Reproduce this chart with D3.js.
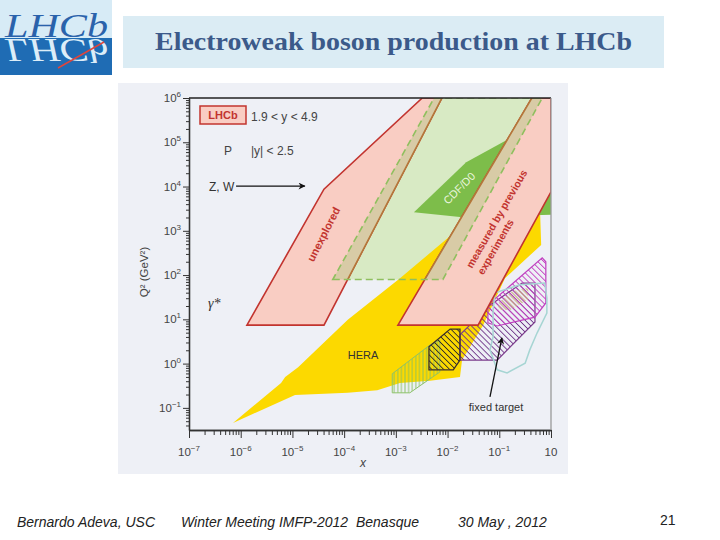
<!DOCTYPE html>
<html>
<head>
<meta charset="utf-8">
<script src="https://cdn.jsdelivr.net/npm/d3@7"></script>
<style>
  body { margin: 0; background: #fff; }
  svg text { font-family: "Liberation Sans", Arial, sans-serif; }
</style>
</head>
<body>
<svg width="720" height="540"></svg>
<script>
/**********************
 Data (log10 x, log10 Q2)
**********************/
var xDecades = [-7, -6, -5, -4, -3, -2, -1, 0];
var xTickLabels = [['10','\u22127'],['10','\u22126'],['10','\u22125'],['10','\u22124'],['10','\u22123'],['10','\u22122'],['10','\u22121'],['10','']];
var yDecades = [-1, 0, 1, 2, 3, 4, 5, 6];
var yTickLabels = [['10','\u22121'],['10','0'],['10','1'],['10','2'],['10','3'],['10','4'],['10','5'],['10','6']];

// LHCb acceptance, low-x part ("unexplored")
var lhcbLow = [[-5.88,0.87],[-4.39,0.87],[-2.11,6],[-2.49,6],[-4.39,3.94]];
// LHCb acceptance, high-x part ("measured by previous experiments")
var lhcbHigh = [[-2.96,0.87],[-1.41,0.87],[0,3.88],[0,6],[-0.37,6]];
// ATLAS/CMS |y| < 2.5
var centralBand = [[-4.22,1.9],[-2.09,1.9],[-0.17,6],[-2.26,6]];
// Tevatron
var cdfD0 = [[-2.65,3.42],[-1.64,4.55],[-0.75,5.12],[0,4.83],[0,3.36],[-1.76,3.31]];
// HERA
var hera = [[-6.15,-1.34],[-5.22,-0.44],[-5.14,-0.30],[-4.89,-0.08],[-3.93,0.99],[-2.92,1.93],[-1.95,2.88],
            [-0.21,3.40],[-0.19,2.68],[-0.89,1.93],[-1.31,0.87],[-1.72,0.08],[-1.76,-0.30],[-2.34,-0.39],
            [-2.92,-0.44],[-3.36,-0.60],[-3.93,-0.66],[-4.95,-0.71]];
// fixed target experiments
var ftGreen = [[-3.07,-0.23],[-2.34,0.42],[-2.15,0.53],[-2.15,-0.19],[-2.73,-0.66],[-3.07,-0.66]];
var ftBlack = [[-2.36,0.38],[-1.95,0.78],[-1.76,0.78],[-1.76,0.08],[-1.89,-0.14],[-2.36,-0.14]];
var ftPurple = [[-1.76,0.08],[-1.04,0.08],[-0.31,0.94],[-0.31,1.82],[-0.56,1.82],[-1.18,1.32],[-1.57,0.87],[-1.76,0.65]];
var ftMagenta = [[-1.22,1.32],[-0.17,2.39],[-0.10,2.30],[-0.10,1.37],[-0.31,1.05],[-1.04,0.85],[-1.22,0.92]];
var ftTan = [[-1.02,1.37],[-0.75,1.64],[-0.44,1.71],[-0.44,1.44],[-0.79,1.21],[-1.02,1.21]];
var ftTeal = [[-1.08,1.60],[-0.60,1.78],[-0.12,1.82],[-0.08,1.48],[-0.08,1.14],[-0.27,0.69],[-0.41,0.31],
              [-0.50,0.01],[-0.85,-0.21],[-1.04,-0.14],[-1.18,0.31],[-1.12,0.60],[-1.12,1.21]];
// arrows
var zwArrow = [[-6.09,4.01],[-4.76,4.01]];
var ftArrow = [[-1.18,-0.75],[-0.95,0.58]];

/**********************
 Layout
**********************/
var svg = d3.select('svg');
var plot = {l: 189, r: 551, t: 98, b: 430};

var xScale = d3.scaleLog().domain([1e-7, 1]).range([plot.l, plot.r]);
var yScale = d3.scaleLog().domain([Math.pow(10, -1.5), 1e6]).range([plot.b, plot.t]);

function px(p) { return xScale(Math.pow(10, p[0])); }
function py(p) { return yScale(Math.pow(10, p[1])); }
var lineGen = d3.line().x(px).y(py);
function polyPath(d) { return lineGen(d) + 'Z'; }

/**********************
 Slide frame: logo, title, footer
**********************/
var logo = svg.append('g');
logo.append('rect').attr('x', 0).attr('y', 0).attr('width', 112).attr('height', 38).attr('fill', '#d7ebf6');
logo.append('rect').attr('x', 0).attr('y', 38).attr('width', 112).attr('height', 37).attr('fill', '#1f6cb4');
logo.append('text').attr('x', 5).attr('y', 37)
  .style('font-family', '"Liberation Serif", serif').style('font-style', 'italic')
  .attr('font-size', 33).attr('fill', '#2a62ab')
  .attr('textLength', 103).attr('lengthAdjust', 'spacingAndGlyphs')
  .text('LHCb');
logo.append('g').attr('transform', 'translate(0,76) scale(1,-1)')
  .append('text').attr('x', 5).attr('y', 37)
  .style('font-family', '"Liberation Serif", serif').style('font-style', 'italic')
  .attr('font-size', 33).attr('fill', '#dcedf8')
  .attr('textLength', 103).attr('lengthAdjust', 'spacingAndGlyphs')
  .text('LHCb');
logo.append('line').attr('x1', 58).attr('y1', 68).attr('x2', 104).attr('y2', 42)
  .attr('stroke', '#e0453c').attr('stroke-width', 1.5);

svg.append('rect').attr('x', 123).attr('y', 16).attr('width', 541).attr('height', 52).attr('fill', '#dbecf4');
svg.append('text').attr('x', 155).attr('y', 50)
  .style('font-family', '"Liberation Serif", "Times New Roman", serif')
  .attr('font-size', 25).attr('font-weight', 'bold').attr('fill', '#3b5a8a')
  .attr('textLength', 477).attr('lengthAdjust', 'spacingAndGlyphs')
  .text('Electroweak boson production at LHCb');

var footer = [
  {t: 'Bernardo Adeva, USC', x: 17},
  {t: 'Winter Meeting IMFP-2012  Benasque', x: 181},
  {t: '30 May , 2012', x: 458}
];
svg.selectAll('text.footer').data(footer).enter().append('text')
  .attr('class', 'footer')
  .attr('x', function(d) { return d.x; }).attr('y', 527)
  .attr('font-size', 14).attr('font-style', 'italic').attr('fill', '#222')
  .style('white-space', 'pre')
  .text(function(d) { return d.t; });
svg.append('text').attr('x', 660).attr('y', 525).attr('font-size', 14).attr('fill', '#222').text('21');

/**********************
 Chart picture background
**********************/
svg.append('rect').attr('x', 118).attr('y', 83).attr('width', 450).attr('height', 391).attr('fill', '#eef0f6');

/**********************
 Defs: hatches, clips, arrow
**********************/
var defs = svg.append('defs');
function hatch(id, color, angle, gap, w) {
  defs.append('pattern').attr('id', id)
    .attr('patternUnits', 'userSpaceOnUse')
    .attr('width', gap).attr('height', gap)
    .attr('patternTransform', 'rotate(' + angle + ')')
    .append('line')
    .attr('x1', gap / 2).attr('y1', 0).attr('x2', gap / 2).attr('y2', gap)
    .attr('stroke', color).attr('stroke-width', w);
}
hatch('hatchGreen', '#86bf62', 0, 3.6, 0.9);
hatch('hatchBlack', '#2e2a2a', -45, 4.2, 0.9);
hatch('hatchPurple', '#6e3488', -45, 4.2, 0.9);
hatch('hatchMagenta', '#c23cc0', -45, 4.2, 0.9);
hatch('hatchTan', '#c7b080', -45, 3.2, 1.1);

defs.append('clipPath').attr('id', 'plotClip').append('rect')
  .attr('x', plot.l).attr('y', plot.t).attr('width', plot.r - plot.l).attr('height', plot.b - plot.t);
var pinkClip = defs.append('clipPath').attr('id', 'pinkClip');
pinkClip.append('path').attr('d', polyPath(lhcbLow));
pinkClip.append('path').attr('d', polyPath(lhcbHigh));
defs.append('clipPath').attr('id', 'greenClip').append('path').attr('d', polyPath(centralBand));

defs.append('marker').attr('id', 'arrowHead')
  .attr('viewBox', '0 0 10 10').attr('refX', 9).attr('refY', 5)
  .attr('markerWidth', 9).attr('markerHeight', 7).attr('orient', 'auto')
  .attr('markerUnits', 'userSpaceOnUse')
  .append('path').attr('d', 'M0,0 L10,5 L0,10 L3,5 Z').attr('fill', '#111');

/**********************
 Regions
**********************/
var chartG = svg.append('g').attr('clip-path', 'url(#plotClip)');

chartG.append('path').attr('d', polyPath(centralBand)).attr('fill', '#d8eac4');
chartG.append('path').attr('d', polyPath(hera)).attr('fill', '#fcd900');
chartG.append('path').attr('d', polyPath(cdfD0)).attr('fill', '#7dbd4a');

chartG.append('path').attr('d', polyPath(ftGreen))
  .attr('fill', 'url(#hatchGreen)').attr('stroke', '#8cc26a').attr('stroke-width', 1);
chartG.append('path').attr('d', polyPath(ftPurple))
  .attr('fill', 'url(#hatchPurple)').attr('stroke', '#7b3b8c').attr('stroke-width', 1.2);
chartG.append('path').attr('d', polyPath(ftMagenta))
  .attr('fill', 'url(#hatchMagenta)').attr('stroke', '#c040c0').attr('stroke-width', 1.2);
chartG.append('path').attr('d', polyPath(ftTan)).attr('fill', 'url(#hatchTan)');
chartG.append('path').attr('d', polyPath(ftBlack))
  .attr('fill', 'url(#hatchBlack)').attr('stroke', '#3a2e2e').attr('stroke-width', 1.3);
chartG.append('path').attr('d', polyPath(ftTeal))
  .attr('fill', 'none').attr('stroke', '#a6d5d3').attr('stroke-width', 1.5);

// LHCb bands
chartG.selectAll('path.lhcb').data([lhcbLow, lhcbHigh]).enter().append('path')
  .attr('class', 'lhcb')
  .attr('d', polyPath)
  .attr('fill', '#f9cdc3').attr('stroke', '#c2342f').attr('stroke-width', 1.6);

// overlap of LHCb and central band
chartG.append('g').attr('clip-path', 'url(#pinkClip)')
  .append('path').attr('d', polyPath(centralBand)).attr('fill', '#d8cba6');
chartG.append('g').attr('clip-path', 'url(#greenClip)')
  .selectAll('path').data([lhcbLow, lhcbHigh]).enter().append('path')
  .attr('d', polyPath)
  .attr('fill', 'none').attr('stroke', '#b4783a').attr('stroke-width', 1.6);

chartG.append('path').attr('d', polyPath(centralBand))
  .attr('fill', 'none').attr('stroke', '#8fbf5e').attr('stroke-width', 1.6)
  .attr('stroke-dasharray', '7,4');

/**********************
 Axes
**********************/
var xMinor = [], yMinor = [];
xDecades.slice(0, -1).forEach(function(e) {
  for (var k = 2; k < 10; k++) xMinor.push(k * Math.pow(10, e));
});
[-2, -1, 0, 1, 2, 3, 4, 5].forEach(function(e) {
  for (var k = 2; k < 10; k++) {
    var v = k * Math.pow(10, e);
    if (v > Math.pow(10, -1.5) && v < 1e6) yMinor.push(v);
  }
});

var axisColor = '#333';
var xAxisG = svg.append('g').attr('transform', 'translate(0,' + plot.b + ')');
xAxisG.call(d3.axisBottom(xScale).tickValues(xDecades.map(function(e) { return Math.pow(10, e); }))
  .tickSize(8).tickSizeOuter(0).tickFormat(''));
xAxisG.append('g').call(d3.axisBottom(xScale).tickValues(xMinor).tickSize(5).tickSizeOuter(0).tickFormat(''));

var yAxisG = svg.append('g').attr('transform', 'translate(' + plot.l + ',0)');
yAxisG.call(d3.axisLeft(yScale).tickValues(yDecades.map(function(e) { return Math.pow(10, e); }))
  .tickSize(6).tickSizeOuter(0).tickFormat(''));
yAxisG.append('g').call(d3.axisLeft(yScale).tickValues(yMinor).tickSize(3).tickSizeOuter(0).tickFormat(''));

svg.selectAll('.domain, .tick line').attr('stroke', axisColor).attr('stroke-width', 1);
svg.selectAll('.domain').attr('stroke-width', 1.3);

// frame: top and right
svg.append('line').attr('x1', plot.l).attr('x2', plot.r).attr('y1', plot.t).attr('y2', plot.t)
  .attr('stroke', '#222').attr('stroke-width', 1.3);
svg.append('line').attr('x1', plot.r).attr('x2', plot.r).attr('y1', plot.t).attr('y2', plot.b)
  .attr('stroke', '#999').attr('stroke-width', 1.3);

// tick labels with superscripts
var xLab = svg.selectAll('text.xlab').data(xDecades).enter().append('text')
  .attr('class', 'xlab')
  .attr('x', function(d) { return xScale(Math.pow(10, d)); })
  .attr('y', 456)
  .attr('text-anchor', 'middle').attr('font-size', 11.5).attr('fill', '#444');
xLab.append('tspan').text(function(d, i) { return xTickLabels[i][0]; });
xLab.append('tspan').attr('dy', -5).attr('font-size', 8).text(function(d, i) { return xTickLabels[i][1]; });

var yLab = svg.selectAll('text.ylab').data(yDecades).enter().append('text')
  .attr('class', 'ylab')
  .attr('x', 181)
  .attr('y', function(d) { return yScale(Math.pow(10, d)) + 4; })
  .attr('text-anchor', 'end').attr('font-size', 11.5).attr('fill', '#444');
yLab.append('tspan').text(function(d, i) { return yTickLabels[i][0]; });
yLab.append('tspan').attr('dy', -5).attr('font-size', 8).text(function(d, i) { return yTickLabels[i][1]; });

svg.append('text').attr('transform', 'translate(148,272) rotate(-90)')
  .attr('text-anchor', 'middle').attr('font-size', 11.5).attr('fill', '#444')
  .text('Q\u00b2 (GeV\u00b2)');
svg.append('text').attr('x', 363).attr('y', 467).attr('text-anchor', 'middle')
  .attr('font-size', 12).attr('font-style', 'italic').attr('fill', '#444').text('x');

/**********************
 Legend and annotations
**********************/
svg.append('rect').attr('x', 200).attr('y', 106).attr('width', 46).attr('height', 18)
  .attr('fill', '#f9cdc3').attr('stroke', '#c2342f').attr('stroke-width', 1.5);
svg.append('text').attr('x', 223).attr('y', 119).attr('text-anchor', 'middle')
  .attr('font-size', 11).attr('font-weight', 'bold').attr('fill', '#c2342f').text('LHCb');
svg.append('text').attr('x', 251).attr('y', 121).attr('font-size', 12).attr('fill', '#444').text('1.9 < y < 4.9');
svg.append('text').attr('x', 228).attr('y', 155).attr('text-anchor', 'middle')
  .attr('font-size', 12).attr('fill', '#444').text('P');
svg.append('text').attr('x', 251).attr('y', 155).attr('font-size', 12).attr('fill', '#444').text('|y| < 2.5');

svg.append('text').attr('x', 209).attr('y', 191).attr('font-size', 12).attr('fill', '#333').text('Z, W');
svg.append('path').attr('d', lineGen(zwArrow))
  .attr('stroke', '#111').attr('stroke-width', 1.3).attr('marker-end', 'url(#arrowHead)');

svg.append('text').attr('x', 208).attr('y', 308)
  .style('font-family', '"Liberation Serif", serif').attr('font-style', 'italic')
  .attr('font-size', 14).attr('fill', '#333').text('\u03b3*');

svg.append('text').attr('transform', 'translate(327,236) rotate(-63)')
  .attr('text-anchor', 'middle').attr('font-size', 11).attr('font-weight', 'bold')
  .attr('fill', '#c2342f').text('unexplored');

svg.append('text').attr('transform', 'translate(462,191) rotate(-45)')
  .attr('text-anchor', 'middle').attr('font-size', 11).attr('fill', '#eaf5dc').text('CDF/D0');

var measured = svg.append('text').attr('transform', 'translate(472,269) rotate(-60)')
  .attr('font-size', 10.5).attr('font-weight', 'bold').attr('fill', '#c2342f');
measured.append('tspan').attr('x', 0).attr('y', 0).text('measured by previous');
measured.append('tspan').attr('x', 0).attr('y', 13).text('experiments');

svg.append('text').attr('x', 363).attr('y', 359).attr('text-anchor', 'middle')
  .attr('font-size', 11).attr('fill', '#333').text('HERA');

svg.append('path').attr('d', lineGen(ftArrow))
  .attr('stroke', '#111').attr('stroke-width', 1.3).attr('marker-end', 'url(#arrowHead)');
svg.append('text').attr('x', 496).attr('y', 411).attr('text-anchor', 'middle')
  .attr('font-size', 11).attr('fill', '#333').text('fixed target');
</script>
</body>
</html>
